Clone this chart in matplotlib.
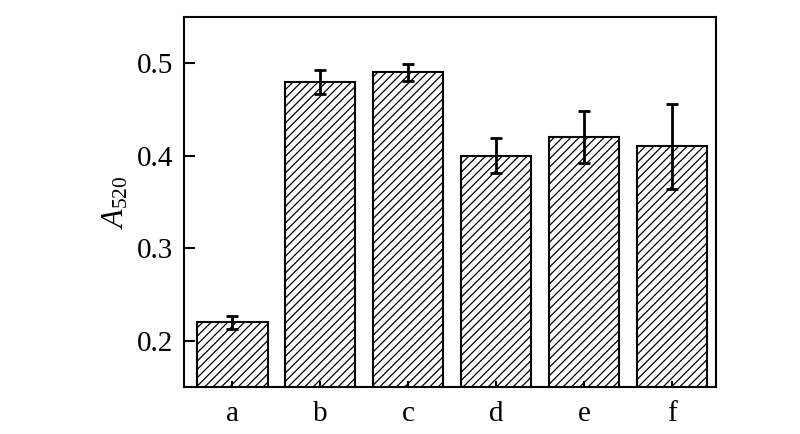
import matplotlib
matplotlib.use('Agg')
from matplotlib import pyplot as plt

labels = ['a', 'b', 'c', 'd', 'e', 'f']
values = [0.22, 0.48, 0.49, 0.40, 0.42, 0.41]
errors = [0.007, 0.013, 0.009, 0.019, 0.028, 0.046]

plt.rcParams['font.family'] = ['Liberation Serif']
plt.rcParams['mathtext.fontset'] = 'custom'
plt.rcParams['mathtext.rm'] = 'Liberation Serif'
plt.rcParams['mathtext.it'] = 'Liberation Serif:italic'
plt.rcParams['hatch.linewidth'] = 0.9

fig = plt.figure(figsize=(8, 4.34), dpi=100)
ax = fig.add_axes([0.23, 0.108, 0.665, 0.853])

x = range(len(labels))
ax.bar(x, values, width=0.8, color='white', edgecolor='black', linewidth=1.5, hatch='////')
ax.errorbar(x, values, yerr=errors, fmt='none', ecolor='black', elinewidth=2, capsize=4, capthick=2)

ax.set_xlim(-0.55, 5.5)
ax.set_ylim(0.15, 0.55)
ax.set_yticks([0.2, 0.3, 0.4, 0.5])
ax.set_xticks(list(x))
ax.set_xticklabels(labels)
ax.tick_params(direction='in', labelsize=21, width=1.5)
ax.tick_params(axis='y', length=8, pad=8)
ax.tick_params(axis='x', length=4, pad=10)
for s in ax.spines.values():
    s.set_linewidth(1.5)

ax.set_ylabel(r'$\mathit{A}_{\mathrm{520}}$', fontsize=22, labelpad=4)

fig.savefig('out.png', dpi=100)
